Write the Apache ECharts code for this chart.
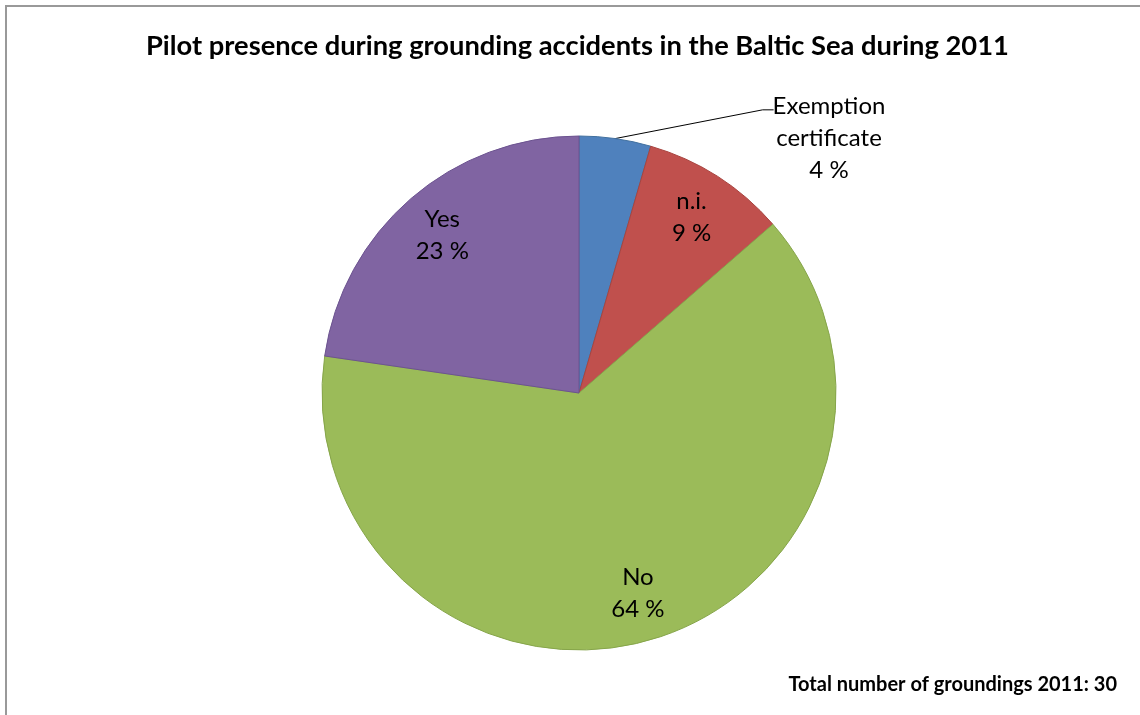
<!DOCTYPE html>
<html><head><meta charset="utf-8">
<script src="https://cdn.jsdelivr.net/npm/echarts@6/dist/echarts.min.js"></script>
<style>html,body{margin:0;padding:0;background:#fff}#c{width:1140px;height:715px}</style>
</head><body><div id="c"></div>
<script>
const categories = ['Exemption\ncertificate', 'n.i.', 'No', 'Yes'];
const values = [4.5, 9.1, 63.7, 22.7];
const percentLabels = ['4 %', '9 %', '64 %', '23 %'];
const colors = ['#4F81BD', '#C0504D', '#9BBB59', '#8064A2'];
const borderColors = ['#41709f', '#a8443f', '#86a54a', '#6c5390'];
const titleText = 'Pilot presence during grounding accidents in the Baltic Sea during 2011';
const footnote = 'Total number of groundings 2011: 30';

const FONT = 'Lato';
const LABEL_SIZE = 24;
const LINE_H = 32;
const chart = echarts.init(document.getElementById('c'), null, {renderer: 'canvas'});

const sliceData = categories.map((n, i) => ({
  name: n, value: values[i],
  itemStyle: {color: colors[i], borderColor: borderColors[i], borderWidth: 1}
}));
const labelData = categories.map((n, i) => {
  const d = {name: n, value: values[i]};
  if (i === 0) {
    d.label = {position: 'outside'};
    d.labelLine = {show: true, length: 20, length2: 20, lineStyle: {color: '#000', width: 1}};
  }
  return d;
});

const OUT_X = 829, OUT_Y = 138;

chart.setOption({
  animation: false,
  backgroundColor: '#fff',
  title: [
    {text: titleText, left: 146, top: 33, padding: 0,
     textStyle: {fontFamily: FONT, fontWeight: 'bold', fontSize: 27.3, color: '#000'}},
    {text: footnote, right: 23, top: 675, padding: 0,
     textStyle: {fontFamily: FONT, fontWeight: 'bold', fontSize: 20, color: '#000'}}
  ],
  graphic: [{type: 'rect', shape: {x: 6, y: 6, width: 1200, height: 800},
    style: {fill: 'none', stroke: '#999', lineWidth: 2}, silent: true}],
  series: [
    {type: 'pie', center: [579, 393], radius: [0, 257], startAngle: 90, clockwise: true,
     silent: true, label: {show: false}, labelLine: {show: false}, data: sliceData},
    {type: 'pie', center: [579, 393], radius: [155, 257], startAngle: 90, clockwise: true,
     silent: true, itemStyle: {color: 'rgba(0,0,0,0)', borderWidth: 0},
     label: {show: true, position: 'inside', color: '#000', fontFamily: FONT, fontSize: LABEL_SIZE,
       lineHeight: LINE_H, align: 'center',
       formatter: p => p.name + '\n' + percentLabels[p.dataIndex]},
     labelLine: {show: false},
     labelLayout: p => {
       if (p.dataIndex !== 0) return {};
       const w = p.labelRect.width, h = p.labelRect.height;
       const left = OUT_X - w / 2 + 4;
       const yLine = OUT_Y - h / 2 + LINE_H * 0.62;
       const start = p.labelLinePoints ? p.labelLinePoints[0] : [615, 139];
       return {x: OUT_X, y: OUT_Y, align: 'center', verticalAlign: 'middle',
         labelLinePoints: [start, [left - 14, yLine], [left - 3, yLine]]};
     },
     data: labelData}
  ]
});
</script></body></html>
